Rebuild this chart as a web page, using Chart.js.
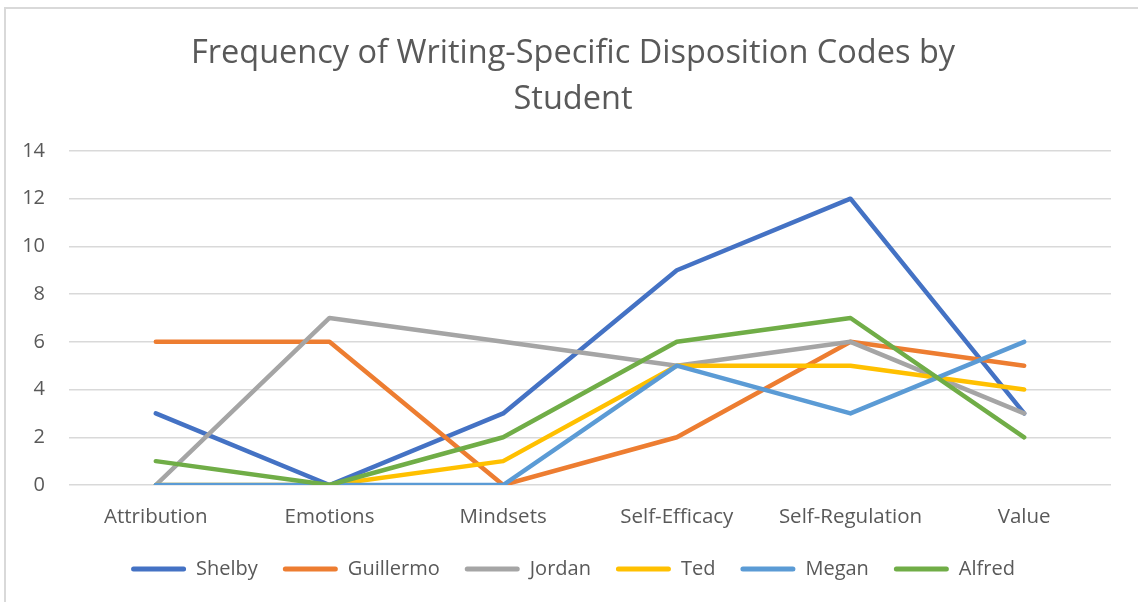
<!DOCTYPE html>
<html>
<head>
<meta charset="utf-8">
<script src="https://cdn.jsdelivr.net/npm/chart.js@4"></script>
<style>
    html, body { margin: 0; padding: 0; background: #ffffff; }
    #wrap { position: relative; width: 1138px; height: 602px; overflow: hidden; }
    #frame {
        position: absolute; left: 4px; top: 7px; right: -10px; bottom: -10px;
        border-left: 2px solid #d9d9d9; border-top: 2px solid #d9d9d9;
    }
    canvas { position: absolute; left: 0; top: 0; }
</style>
</head>
<body>
<div id="wrap">
    <div id="frame"></div>
    <canvas id="chart" width="1138" height="602"></canvas>
</div>
<script>
// ============ Data ============
const categories = ['Attribution', 'Emotions', 'Mindsets', 'Self-Efficacy', 'Self-Regulation', 'Value'];
const students = ['Shelby', 'Guillermo', 'Jordan', 'Ted', 'Megan', 'Alfred'];
const shelby    = [3, 0, 3, 9, 12, 3];
const guillermo = [6, 6, 0, 2, 6, 5];
const jordan    = [0, 7, 6, 5, 6, 3];
const ted       = [0, 0, 1, 5, 5, 4];
const megan     = [0, 0, 0, 5, 3, 6];
const alfred    = [1, 0, 2, 6, 7, 2];
const yTicks = [0, 2, 4, 6, 8, 10, 12, 14];

// ============ Style ============
const COLORS = ['#4472c4', '#ed7d31', '#a5a5a5', '#ffc000', '#5b9bd5', '#70ad47'];
const TEXT = '#595959';
const GRID = '#d9d9d9';
const FONT = "'Open Sans', sans-serif";

const series = [shelby, guillermo, jordan, ted, megan, alfred];

const datasets = series.map((data, i) => ({
    label: students[i],
    data,
    borderColor: COLORS[i],
    backgroundColor: COLORS[i],
    borderWidth: 4.5,
    pointRadius: 0,
    pointHoverRadius: 0,
    tension: 0,
    fill: false,
    borderJoinStyle: 'round',
    borderCapStyle: 'round',
    // later series drawn on top, as in the source
    order: series.length - i
}));

Chart.defaults.font.family = FONT;
Chart.defaults.color = TEXT;

new Chart(document.getElementById('chart').getContext('2d'), {
    type: 'line',
    data: { labels: categories, datasets },
    options: {
        responsive: false,
        animation: false,
        layout: { padding: { left: 8, right: 0, top: 0, bottom: 13 } },
        plugins: {
            title: {
                display: true,
                text: ['Frequency of Writing-Specific Disposition Codes by', 'Student'],
                color: TEXT,
                font: { size: 32.5, weight: 'normal', lineHeight: 1.415 },
                padding: { top: 31, bottom: 28 }
            },
            legend: {
                position: 'bottom',
                labels: {
                    color: TEXT,
                    font: { size: 20 },
                    boxWidth: 55,
                    boxHeight: 5,
                    padding: 25,
                    useBorderRadius: true,
                    borderRadius: 2.5,
                    generateLabels: (chart) => chart.data.datasets.map((ds, i) => ({
                        text: ds.label,
                        fillStyle: ds.borderColor,
                        strokeStyle: ds.borderColor,
                        lineWidth: 0,
                        fontColor: TEXT,
                        borderRadius: 2.5,
                        datasetIndex: i
                    }))
                }
            },
            tooltip: { enabled: false }
        },
        scales: {
            x: {
                offset: true,
                grid: { display: false, drawTicks: false },
                border: { display: false },
                ticks: { color: TEXT, font: { size: 20.5 }, padding: 20, maxRotation: 0 },
                afterFit: (axis) => { axis.height = 49; }
            },
            y: {
                min: 0,
                max: 14,
                afterBuildTicks: (axis) => { axis.ticks = yTicks.map(v => ({ value: v })); },
                grid: { color: GRID, lineWidth: 1.5, drawTicks: false },
                border: { display: false },
                ticks: { color: TEXT, font: { size: 20 }, padding: 24 },
                afterFit: (axis) => { axis.width = 61; }
            },
            // empty right-hand axis, only reserves the white margin on the right
            yRight: {
                position: 'right',
                grid: { display: false, drawTicks: false },
                border: { display: false },
                ticks: { display: false },
                afterFit: (axis) => { axis.width = 27; }
            }
        }
    }
});
</script>
</body>
</html>
